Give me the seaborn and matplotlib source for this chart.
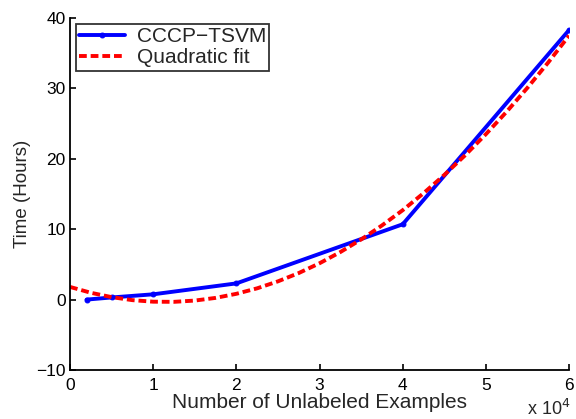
import numpy as np
import pandas as pd
import matplotlib
matplotlib.use("Agg")
import matplotlib.pyplot as plt
import seaborn as sns

# unlabeled examples (x 10^4) and training time in hours
n_unlabeled = [0.2, 0.5, 1.0, 2.0, 4.0, 6.0]
time_hours = [0.0, 0.3, 0.75, 2.3, 10.7, 38.3]

# quadratic fit curve
fit_x = [0, 0.25, 0.5, 0.75, 1.0, 1.25, 1.5, 1.75, 2.0, 2.25, 2.5, 2.75, 3.0,
         3.25, 3.5, 3.75, 4.0, 4.25, 4.5, 4.75, 5.0, 5.25, 5.5, 5.75, 6.0]
fit_y = [1.80, 0.97, 0.35, -0.08, -0.30, -0.32, -0.14, 0.24, 0.82, 1.60, 2.59,
         3.77, 5.16, 6.75, 8.54, 10.53, 12.70, 15.11, 17.71, 20.50, 23.50,
         26.70, 30.10, 33.70, 37.50]

sns.set_style("ticks")
plt.rcParams['font.family'] = ['Liberation Sans', 'DejaVu Sans']

fig = plt.figure(figsize=(5.76, 4.19), dpi=100)
ax = fig.add_axes([0.1215, 0.117, 0.8665, 0.840])

df = pd.DataFrame({"x": n_unlabeled, "y": time_hours})
fit = pd.DataFrame({"x": fit_x, "y": fit_y})

sns.lineplot(data=df, x="x", y="y", ax=ax, color="#0000ff", linewidth=2.8,
             marker=".", markersize=7, markeredgecolor="#0000ff",
             label="CCCP\u2212TSVM")
sns.lineplot(data=fit, x="x", y="y", ax=ax, color="#ff0000", linewidth=2.8,
             linestyle=(0, (2.0, 1.0)), label="Quadratic fit")

ax.set_xlim(0, 6)
ax.set_ylim(-10, 40)
ax.set_xticks(range(0, 7))
ax.set_yticks([-10, 0, 10, 20, 30, 40])
ax.set_yticklabels(["\u221210", "0", "10", "20", "30", "40"])
ax.tick_params(direction="in", length=4, width=1.2, labelsize=12.5,
               colors="black")
ax.tick_params(axis="x", pad=6)
ax.tick_params(axis="y", pad=3)
for s in ["left", "bottom"]:
    ax.spines[s].set_linewidth(1.3)
    ax.spines[s].set_color("black")
sns.despine(ax=ax)

ax.set_xlabel("Number of Unlabeled Examples", fontsize=15, labelpad=0)
ax.set_ylabel("Time (Hours)", fontsize=13.5, labelpad=4)
fig.text(0.915, 0.0, "x 10$^{4}$", fontsize=13, ha="left", va="bottom")

leg = ax.legend(loc="upper left", bbox_to_anchor=(0.0, 1.0), fontsize=15,
                frameon=True, fancybox=False, edgecolor="black",
                borderpad=0.15, labelspacing=0.1, handlelength=2.2,
                handletextpad=0.55, borderaxespad=0.3)
leg.get_frame().set_linewidth(1.3)

fig.savefig("out.png", dpi=100)
